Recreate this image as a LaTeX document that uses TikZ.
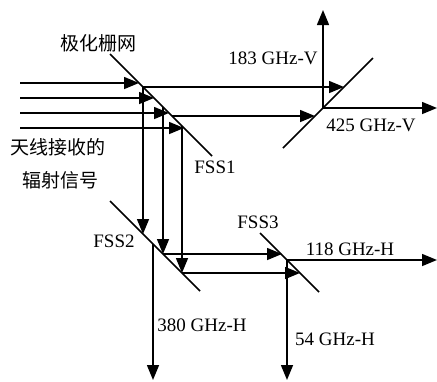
\documentclass[tikz,border=0pt]{standalone}
\usepackage{fontspec}
\setmainfont{Liberation Serif}
\newfontfamily\cjk{Noto Sans CJK SC}
\usetikzlibrary{arrows.meta}
\tikzset{>={Triangle[width=12pt,length=15pt]}}
\tikzset{
  beam/.style={->, line width=1.5pt},
  plate/.style={line width=1.5pt},
  lbl/.style={inner sep=0pt, font=\fontsize{19}{22}\selectfont}
}

\begin{document}
\begin{tikzpicture}[x=1pt,y=-1pt]

  \useasboundingbox (0,0) rectangle (437,381);

  % polarizing grid and the frequency selective surfaces
  \draw[plate] (110,54) coordinate (pgA) -- (212,156) coordinate (pgB);
  \draw[plate] (283,148) coordinate (fsA) -- (373,58) coordinate (fsB);
  \draw[plate] (110,201) coordinate (ftA) -- (200,291) coordinate (ftB);
  \draw[plate] (260,233) coordinate (fuA) -- (319,292) coordinate (fuB);

  % incoming radiation
  \foreach \i/\y/\x in {1/83/139, 2/98/154, 3/113/169, 4/128/184}{
    \coordinate (in\i) at (20,\y);
    \coordinate (pg\i) at (\x,\y);
    \draw[beam] (in\i) -- (pg\i);
  }

  % transmitted by the grid
  \coordinate (pt1) at (143,87);
  \coordinate (pt2) at (172,116);
  \coordinate (fs1) at (344,87);
  \coordinate (fs2) at (315,116);
  \draw[beam] (pt1) -- (fs1);
  \draw[beam] (pt2) -- (fs2);

  % reflected by the grid
  \coordinate (pv1) at (143,87);
  \coordinate (pv2) at (163,107);
  \coordinate (pv3) at (182,126);
  \coordinate (ft1) at (143,234);
  \coordinate (ft2) at (163,254);
  \coordinate (ft3) at (182,273);
  \foreach \i in {1,2,3}
    \draw[beam] (pv\i) -- (ft\i);

  % FSS2 to FSS3
  \coordinate (fu1) at (282,254);
  \coordinate (fu2) at (300,273);
  \draw[beam] (ft2) -- (fu1);
  \draw[beam] (ft3) -- (fu2);

  % output channels
  \coordinate (fso) at (323,108);
  \coordinate (fto) at (153,244);
  \coordinate (fuo) at (287,260);
  \coordinate (o183) at (323,10);
  \coordinate (o425) at (437,108);
  \coordinate (o380) at (153,380);
  \coordinate (o118) at (437,260);
  \coordinate (o54) at (287,380);
  \draw[beam] (fso) -- (o183);
  \draw[beam] (fso) -- (o425);
  \draw[beam] (fto) -- (o380);
  \draw[beam] (fuo) -- (o118);
  \draw[beam] (fuo) -- (o54);

  % labels
  \node[lbl] (grid) at (98,43) {\cjk 极化栅网};
  \node[lbl] (src1) at (58,147) {\cjk 天线接收的};
  \node[lbl] (src2) at (61,180) {\cjk 辐射信号};
  \node[lbl] (fss1) at (215,167) {FSS1};
  \node[lbl] (fss2) at (114,241) {FSS2};
  \node[lbl] (fss3) at (258,222) {FSS3};
  \node[lbl] (l183) at (273,58) {183 GHz-V};
  \node[lbl] (l425) at (371,125) {425 GHz-V};
  \node[lbl] (l380) at (202,325) {380 GHz-H};
  \node[lbl] (l118) at (350,249) {118 GHz-H};
  \node[lbl] (l54) at (335,339) {54 GHz-H};

\end{tikzpicture}
\end{document}
